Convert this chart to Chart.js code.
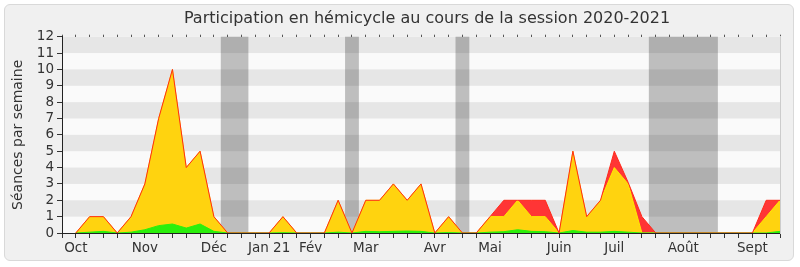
<!DOCTYPE html>
<html>
<head>
<meta charset="utf-8">
<script src="https://cdn.jsdelivr.net/npm/chart.js@4"></script>
<style>
    body { margin: 0; background: #fff; }
    #cadre { position: absolute; left: 4px; top: 4px; width: 788px; height: 255px; border: 1px solid #d9d9d9; border-radius: 6px; background: #f0f0f0; }
    #myChart { position: absolute; left: 0; top: 0; }
</style>
</head>
<body>
<div id="cadre"></div>
<canvas id="myChart" width="800" height="267"></canvas>
<script>
// semaines de la session (0 = début octobre 2020)
const semaines = Array.from({length: 52}, (_, i) => i);

// haut de la couche verte
const vert = [0, 0.05, 0.1, 0, 0.05, 0.2, 0.45, 0.55, 0.3, 0.55, 0.1, 0, 0, 0, 0, 0.02, 0, 0, 0, 0.05,
    0, 0.1, 0.08, 0.1, 0.12, 0.1, 0, 0.03, 0, 0, 0.05, 0.08, 0.2, 0.1, 0.08, 0, 0.15, 0.05, 0.05, 0.1,
    0.05, 0, 0, 0, 0, 0, 0, 0, 0, 0, 0, 0.1];
// haut de la couche jaune
const jaune = [0, 1, 1, 0, 1, 3, 7, 10, 4, 5, 1, 0, 0, 0, 0, 1, 0, 0, 0, 2,
    0, 2, 2, 3, 2, 3, 0, 1, 0, 0, 1, 1, 2, 1, 1, 0, 5, 1, 2, 4,
    3, 0, 0, 0, 0, 0, 0, 0, 0, 0, 1, 2];
// total (haut de la couche rouge)
const total = [0, 1, 1, 0, 1, 3, 7, 10, 4, 5, 1, 0, 0, 0, 0, 1, 0, 0, 0, 2,
    0, 2, 2, 3, 2, 3, 0, 1, 0, 0, 1, 2, 2, 2, 2, 0, 5, 1, 2, 5,
    3.1, 1, 0, 0, 0, 0, 0, 0, 0, 0, 2, 2];

const moisSemaines = [0, 5, 10, 14, 17, 21, 26, 30, 35, 39, 44, 49];
const moisLabels = ['Oct', 'Nov', 'Déc', 'Jan 21', 'Fév', 'Mar', 'Avr', 'Mai', 'Juin', 'Juil', 'Août', 'Sept'];

// vacances parlementaires (en semaines)
const vacances = [[10.5, 12.5], [19.5, 20.5], [27.5, 28.5], [41.5, 46.5]];

const titre = 'Participation en hémicycle au cours de la session 2020-2021';
const police = 'DejaVu Sans';

const pts = arr => arr.map((v, i) => ({x: semaines[i], y: v}));

const fond = {
    id: 'fond',
    beforeDraw(chart) {
        const {ctx, chartArea: a, scales: {x, y}} = chart;
        ctx.save();
        ctx.fillStyle = '#fafafa';
        ctx.fillRect(a.left, a.top, a.width, a.height);
        ctx.fillStyle = '#e6e6e6';
        for (let v = 1; v < 12; v += 2) {
            const t = y.getPixelForValue(v + 1), b = y.getPixelForValue(v);
            ctx.fillRect(a.left, t, a.width, b - t);
        }
        ctx.fillStyle = 'rgba(0,0,0,0.24)';
        vacances.forEach(([d, f]) => {
            const x0 = x.getPixelForValue(d), x1 = x.getPixelForValue(f);
            ctx.fillRect(x0, a.top, x1 - x0, a.height);
        });
        ctx.restore();
    },
    afterDraw(chart) {
        const ctx = chart.ctx;
        ctx.save();
        ctx.fillStyle = '#333';
        ctx.font = '16px "' + police + '"';
        ctx.textAlign = 'center';
        ctx.textBaseline = 'middle';
        ctx.fillText(titre, 427, 19);
        ctx.restore();
    }
};

var ctx = document.getElementById('myChart');
var myChart = new Chart(ctx, {
    type: 'line',
    data: {
        datasets: [{
            // contour rouge au-dessus de tout
            data: pts(total),
            fill: false,
            borderColor: '#ff2a1a',
            borderWidth: 1
        }, {
            data: pts(vert),
            fill: 'origin',
            backgroundColor: '#2bef0c',
            borderColor: '#2bef0c',
            borderWidth: 1
        }, {
            data: pts(jaune),
            fill: 'origin',
            backgroundColor: '#ffd30f',
            borderColor: '#ffea00',
            borderWidth: 1
        }, {
            data: pts(total),
            fill: 'origin',
            backgroundColor: '#ff3535',
            borderWidth: 0
        }]
    },
    plugins: [fond],
    options: {
        responsive: false,
        animation: false,
        devicePixelRatio: 1,
        elements: {point: {radius: 0}, line: {tension: 0}},
        layout: {padding: {left: 0, right: 20, top: 33.7, bottom: 0}},
        plugins: {
            legend: {display: false},
            tooltip: {enabled: false}
        },
        scales: {
            x: {
                type: 'linear',
                min: -1,
                max: 51,
                afterFit: s => { s.height = 34; },
                border: {color: '#222'},
                grid: {drawOnChartArea: false, tickLength: 5, color: '#333'},
                ticks: {
                    stepSize: 1,
                    autoSkip: false,
                    maxRotation: 0,
                    padding: 2,
                    color: '#333',
                    font: {family: police, size: 13.5},
                    callback: v => {
                        const k = moisSemaines.indexOf(v);
                        return k >= 0 ? moisLabels[k] : '';
                    }
                }
            },
            x2: {
                type: 'linear',
                position: 'top',
                min: -1,
                max: 51,
                afterFit: s => { s.height = 3; },
                border: {display: false},
                grid: {drawOnChartArea: false, tickLength: 2, color: '#555'},
                ticks: {stepSize: 1, display: false}
            },
            y: {
                min: 0,
                max: 12,
                afterFit: s => { s.width = 62; },
                border: {color: '#222'},
                grid: {drawOnChartArea: false, tickLength: 5, color: '#333'},
                ticks: {stepSize: 1, autoSkip: false, padding: 3, color: '#333', font: {family: police, size: 13.5}},
                title: {
                    display: true,
                    text: 'Séances par semaine',
                    color: '#333',
                    font: {family: police, size: 14},
                    padding: {top: 10, bottom: 0}
                }
            },
            y2: {
                position: 'right',
                min: 0,
                max: 12,
                afterFit: s => { s.width = 0; },
                border: {color: '#ccc'},
                grid: {display: false},
                ticks: {display: false}
            }
        }
    }
});
</script>
</body>
</html>
